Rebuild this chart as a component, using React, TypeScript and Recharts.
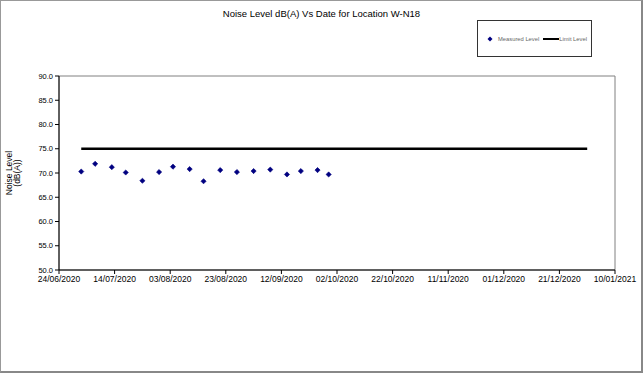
import { ComposedChart, Scatter, Line, XAxis, YAxis, Legend, ReferenceArea } from "recharts";

const measuredDates = [
  "02/07/2020", "07/07/2020", "13/07/2020", "18/07/2020", "24/07/2020", "30/07/2020",
  "04/08/2020", "10/08/2020", "15/08/2020", "21/08/2020", "27/08/2020", "02/09/2020",
  "08/09/2020", "14/09/2020", "19/09/2020", "25/09/2020", "29/09/2020",
];
const measuredLevels = [
  70.3, 71.9, 71.2, 70.1, 68.4, 70.2, 71.3, 70.8, 68.3, 70.6, 70.2, 70.4, 70.7, 69.7, 70.4, 70.6, 69.7,
];
const limitDates = ["02/07/2020", "31/12/2020"];
const limitLevels = [75, 75];
const xTickDates = [
  "24/06/2020", "14/07/2020", "03/08/2020", "23/08/2020", "12/09/2020", "02/10/2020",
  "22/10/2020", "11/11/2020", "01/12/2020", "21/12/2020", "10/01/2021",
];
const yTicks = [50, 55, 60, 65, 70, 75, 80, 85, 90];

const START = Date.UTC(2020, 5, 24);
const toDay = (s: string) => {
  const [d, m, y] = s.split("/").map(Number);
  return (Date.UTC(y, m - 1, d) - START) / 86400000;
};

const measured = measuredDates.map((d, i) => ({ day: toDay(d), level: measuredLevels[i] }));
const limit = limitDates.map((d, i) => ({ day: toDay(d), level: limitLevels[i] }));
const xTicks = xTickDates.map(toDay);

const font = "'Liberation Sans', Arial, sans-serif";

const Diamond = (props: any) => {
  const { cx, cy } = props;
  const r = 2.6;
  return (
    <polygon
      points={`${cx},${cy - r} ${cx + r},${cy} ${cx},${cy + r} ${cx - r},${cy}`}
      fill="#000080"
      stroke="#000080"
      strokeWidth={0.6}
    />
  );
};

const renderLegend = () => (
  <div
    style={{
      width: 115,
      height: 37,
      boxSizing: "border-box",
      border: "1px solid #333",
      background: "#fff",
      display: "flex",
      alignItems: "center",
      fontFamily: font,
      fontSize: 5.8,
      color: "#666",
      paddingLeft: 9,
    }}
  >
    <svg width={6} height={6} style={{ marginRight: 5 }}>
      <polygon points="3,0.5 5.5,3 3,5.5 0.5,3" fill="#000080" />
    </svg>
    <span style={{ marginRight: 4 }}>Measured Level</span>
    <svg width={16} height={4}>
      <line x1={0} y1={2} x2={16} y2={2} stroke="#000" strokeWidth={2} />
    </svg>
    <span>Limit Level</span>
  </div>
);

const YLabel = (props: any) => {
  const { viewBox } = props;
  const cy = viewBox.y + viewBox.height / 2;
  return (
    <g transform={`translate(13, ${cy}) rotate(-90)`}>
      <text textAnchor="middle" fontFamily={font} fontSize={8.5} fill="#000">
        <tspan x={0} y={-1}>Noise Level</tspan>
        <tspan x={0} y={7}>(dB(A))</tspan>
      </text>
    </g>
  );
};

export default function App() {
  const fmt = (v: number) => {
    const i = xTicks.indexOf(v);
    return i >= 0 ? xTickDates[i] : "";
  };
  return (
    <div style={{ position: "absolute", left: 0, top: 0, width: 643, height: 373, background: "#fff" }}>
      <div
        style={{
          position: "absolute",
          left: 0,
          top: 8,
          width: 643,
          textAlign: "center",
          fontFamily: font,
          fontSize: 9.5,
          color: "#000",
        }}
      >
        Noise Level dB(A) Vs Date for Location W-N18
      </div>
      <ComposedChart
        width={643}
        height={373}
        margin={{ top: 76, right: 28, bottom: 73, left: 0 }}
        style={{ position: "absolute", left: 0, top: 0 }}
      >
        <ReferenceArea x1={0} x2={200} y1={50} y2={90} fill="none" stroke="#808080" strokeWidth={1} ifOverflow="visible" />
        <XAxis
          type="number"
          dataKey="day"
          domain={[0, 200]}
          ticks={xTicks}
          tickFormatter={fmt}
          interval={0}
          height={30}
          stroke="#000"
          tickSize={4}
          tick={{ fontSize: 8.5, fontFamily: font, fill: "#000" }}
        />
        <YAxis
          type="number"
          dataKey="level"
          domain={[50, 90]}
          ticks={yTicks}
          tickFormatter={(v: number) => v.toFixed(1)}
          interval={0}
          width={59}
          stroke="#000"
          tickSize={4}
          tick={{ fontSize: 7.5, fontFamily: font, fill: "#000" }}
          label={<YLabel />}
        />
        <Legend
          layout="horizontal"
          verticalAlign="middle"
          align="center"
          content={renderLegend}
          wrapperStyle={{ position: "absolute", left: 477, top: 20, width: 115, height: 37 }}
        />
        <Line
          data={limit}
          dataKey="level"
          name="Limit Level"
          stroke="#000"
          strokeWidth={2.5}
          dot={false}
          isAnimationActive={false}
        />
        <Scatter
          data={measured}
          dataKey="level"
          name="Measured Level"
          shape={<Diamond />}
          isAnimationActive={false}
        />
      </ComposedChart>
      <div
        style={{
          position: "absolute",
          left: 0,
          top: 0,
          width: 643,
          height: 373,
          boxSizing: "border-box",
          borderLeft: "1px solid #999",
          borderTop: "1px solid #999",
          borderRight: "2px solid #888",
          borderBottom: "2px solid #888",
          pointerEvents: "none",
        }}
      />
    </div>
  );
}
